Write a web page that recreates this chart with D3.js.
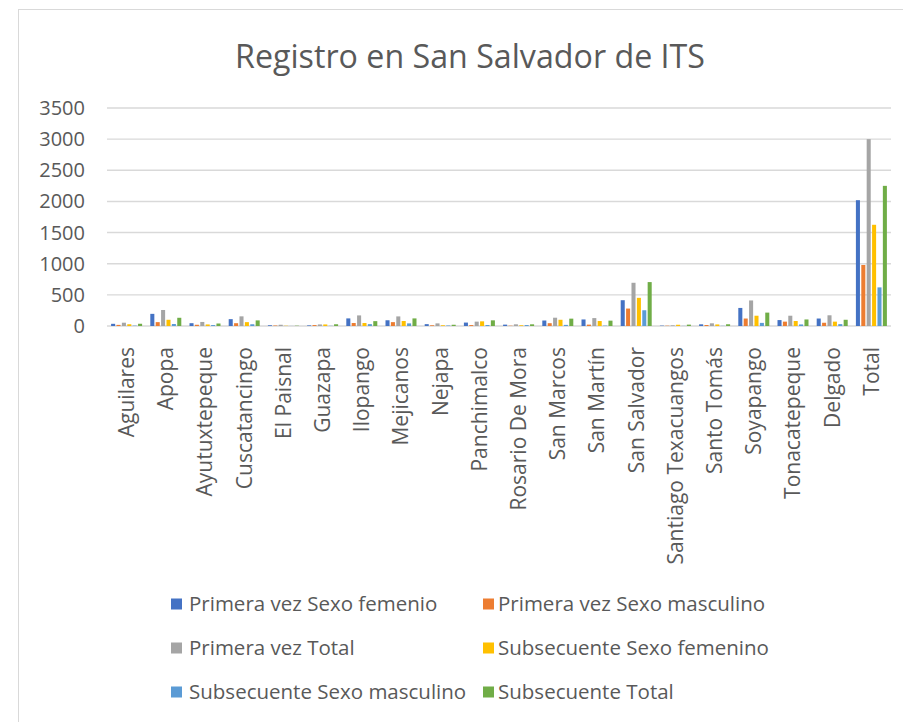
<!DOCTYPE html>
<html>
<head>
<meta charset="utf-8">
<script src="https://cdn.jsdelivr.net/npm/d3@7"></script>
<style>
  html, body { margin: 0; padding: 0; background: #fff; }
  svg { display: block; }
  text { font-family: "Open Sans", "Noto Sans", sans-serif; fill: #595959; }
</style>
</head>
<body>
<svg id="chart" width="903" height="722"></svg>
<script>
const title = "Registro en San Salvador de ITS";
const categories = ["Aguilares","Apopa","Ayutuxtepeque","Cuscatancingo","El Paisnal","Guazapa","Ilopango","Mejicanos","Nejapa","Panchimalco","Rosario De Mora","San Marcos","San Martín","San Salvador","Santiago Texacuangos","Santo Tomás","Soyapango","Tonacatepeque","Delgado","Total"];
const seriesNames = ["Primera vez Sexo femenio","Primera vez Sexo masculino","Primera vez Total","Subsecuente Sexo femenino","Subsecuente Sexo masculino","Subsecuente Total"];
const seriesColors = ["#4472C4","#ED7D31","#A5A5A5","#FFC000","#5B9BD5","#70AD47"];
const primeraFem   = [35, 195, 45, 110, 12, 10, 122, 92, 30, 55, 22, 88, 105, 414, 6, 27, 290, 95, 120, 2020];
const primeraMasc  = [18, 62, 20, 45, 8, 15, 48, 62, 12, 15, 5, 45, 22, 280, 5, 16, 120, 70, 52, 980];
const primeraTotal = [53, 257, 65, 155, 20, 25, 170, 154, 42, 70, 27, 133, 127, 694, 11, 43, 410, 165, 172, 3000];
const subFem       = [28, 100, 25, 62, 4, 25, 48, 80, 12, 75, 12, 100, 80, 452, 20, 25, 165, 80, 70, 1625];
const subMasc      = [6, 32, 15, 28, 1, 3, 30, 42, 8, 16, 15, 18, 6, 253, 2, 3, 50, 25, 30, 620];
const subTotal     = [36, 132, 40, 90, 5, 28, 78, 122, 20, 91, 27, 118, 86, 705, 22, 28, 215, 105, 100, 2250];
const yTicks = [0, 500, 1000, 1500, 2000, 2500, 3000, 3500];

const seriesValues = [primeraFem, primeraMasc, primeraTotal, subFem, subMasc, subTotal];

const svg = d3.select("#chart");

// chart border
svg.append("rect").attr("x", 18.5).attr("y", 9.5).attr("width", 900).attr("height", 730)
  .attr("fill", "#fff").attr("stroke", "#d9d9d9").attr("stroke-width", 1);

// title
svg.append("text").attr("x", 470).attr("y", 68).attr("text-anchor", "middle")
  .attr("font-size", 33).attr("textLength", 470).attr("lengthAdjust", "spacingAndGlyphs")
  .text(title);

const x0 = d3.scaleBand().domain(categories).range([107, 891]).padding(0);
const groupW = 31;
const x1 = d3.scaleBand().domain(d3.range(seriesNames.length))
  .range([(x0.bandwidth() - groupW) / 2, (x0.bandwidth() + groupW) / 2]).paddingInner(0.25);
const y = d3.scaleLinear().domain([0, 3500]).range([326, 108]);

// gridlines
svg.append("g").selectAll("line").data(yTicks).join("line")
  .attr("x1", 107).attr("x2", 891)
  .attr("y1", d => y(d)).attr("y2", d => y(d))
  .attr("stroke", "#d9d9d9").attr("stroke-width", 1.4);

// y labels
svg.append("g").selectAll("text").data(yTicks).join("text")
  .attr("x", 85).attr("y", d => y(d)).attr("dy", "0.35em")
  .attr("text-anchor", "end").attr("font-size", 20).text(d => d);

// bars
const groups = svg.append("g").selectAll("g").data(categories).join("g")
  .attr("transform", d => `translate(${x0(d)},0)`);
groups.selectAll("rect").data((c, ci) => seriesValues.map((arr, si) => ({ si, v: arr[ci] })))
  .join("rect")
  .attr("x", d => x1(d.si)).attr("width", x1.bandwidth())
  .attr("y", d => y(d.v)).attr("height", d => y(0) - y(d.v))
  .attr("fill", d => seriesColors[d.si]);

// x labels
svg.append("g").selectAll("text").data(categories).join("text")
  .attr("transform", d => `translate(${x0(d) + x0.bandwidth() / 2},347) rotate(-90)`)
  .attr("dy", "0.35em").attr("text-anchor", "end").attr("font-size", 21)
  .text(d => d);

// legend
const legendPos = [[171, 604, 189], [483, 604, 498], [171, 648, 189], [483, 648, 498], [171, 692, 189], [483, 692, 498]];
const lg = svg.append("g").selectAll("g").data(seriesNames).join("g")
  .attr("transform", (d, i) => `translate(${legendPos[i][0]},${legendPos[i][1]})`);
lg.append("rect").attr("x", 0).attr("y", -5.5).attr("width", 11).attr("height", 11)
  .attr("fill", (d, i) => seriesColors[i]);
lg.append("text").attr("x", (d, i) => legendPos[i][2] - legendPos[i][0]).attr("y", 0)
  .attr("dy", "0.35em").attr("font-size", 20.5)
  .text(d => d);
</script>
</body>
</html>
